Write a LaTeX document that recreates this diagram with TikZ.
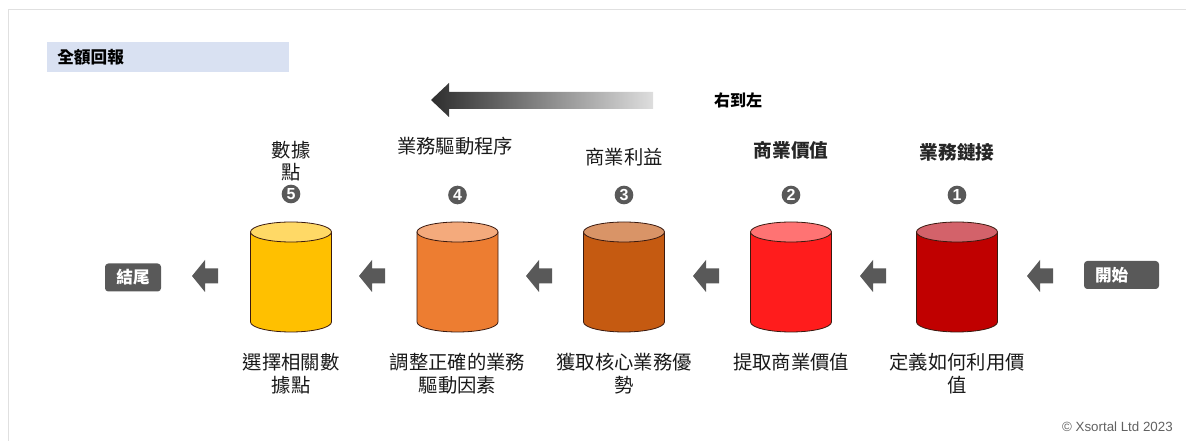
\documentclass[tikz,border=0pt]{standalone}
\usepackage{fontspec}
\setmainfont{Liberation Sans}
\newfontfamily\cjk{Noto Sans CJK TC}
\definecolor{hdr}{HTML}{D9E1F2}
\definecolor{dgray}{HTML}{595959}
\definecolor{cline}{HTML}{3A1A10}
\definecolor{bodyA}{HTML}{C00000}\definecolor{topA}{HTML}{D3626A}
\definecolor{bodyB}{HTML}{FF1C1C}\definecolor{topB}{HTML}{FF7373}
\definecolor{bodyC}{HTML}{C55A11}\definecolor{topC}{HTML}{D99467}
\definecolor{bodyD}{HTML}{ED7D31}\definecolor{topD}{HTML}{F4AA7C}
\definecolor{bodyE}{HTML}{FFC000}\definecolor{topE}{HTML}{FFD966}
\newcommand\mycyl[4]{%
  \path[fill=#2,draw=cline,line width=0.6pt] (#1-40.5,232) -- (#1-40.5,322)
     arc[start angle=180,end angle=0,x radius=40.5,y radius=10] -- (#1+40.5,232) -- cycle;
  \path[fill=#3,draw=cline,line width=0.6pt] (#1,232) ellipse [x radius=40.5,y radius=10];
  \coordinate (#4) at (#1,277);}
\newcommand\myarrow[2]{%
  \fill[dgray] (#1,276) -- (#1+13,260) -- (#1+13,268.5) -- (#1+26,268.5) -- (#1+26,283.5)
     -- (#1+13,283.5) -- (#1+13,292) -- cycle;
  \coordinate (#2) at (#1+13,276);}
\begin{document}
\begin{tikzpicture}[x=0.75pt,y=-0.75pt,
  lbl/.style={font=\cjk\fontsize{14.5}{17.25}\selectfont, align=center, inner sep=0pt, text=black!90},
  lblb/.style={font=\cjk\bfseries\fontsize{14}{17}\selectfont, align=center, inner sep=0pt, text=black!85},
  num/.style={circle, fill=dgray, text=white, font=\bfseries\fontsize{12}{12}\selectfont, inner sep=0pt, minimum size=14pt},
  tag/.style={rounded corners=2.5pt, fill=dgray, text=white, font=\cjk\bfseries\fontsize{12.5}{14}\selectfont, minimum height=21pt}]
\useasboundingbox (0,0) rectangle (1186,441);
\draw[black!12,line width=0.75pt] (8,441) -- (8,10) -- (1186,10);
% header
\node[fill=hdr, minimum width=181.5pt, minimum height=22.5pt, inner sep=0pt, anchor=north west] (hdrbox) at (47,42) {};
\node[font=\cjk\bfseries\fontsize{12.5}{14}\selectfont, anchor=west, inner sep=0pt] (hdrtxt) at (57,57) {全額回報};
% direction arrow
\shade[left color=black!82, right color=black!13] (431,100) -- (449,83) -- (449,92) -- (653,92) -- (653,109) -- (449,109) -- (449,117) -- cycle;
\node[font=\cjk\bfseries\fontsize{12}{14}\selectfont, inner sep=0pt] (dir) at (738,100) {右到左};
% cylinders
\mycyl{957}{bodyA}{topA}{c1}
\mycyl{791}{bodyB}{topB}{c2}
\mycyl{624}{bodyC}{topC}{c3}
\mycyl{457.5}{bodyD}{topD}{c4}
\mycyl{291}{bodyE}{topE}{c5}
% small arrows
\myarrow{1027}{a0}
\myarrow{860}{a1}
\myarrow{693}{a2}
\myarrow{526}{a3}
\myarrow{359}{a4}
\myarrow{192}{a5}
% start / end
\node[tag, minimum width=56.25pt, inner xsep=8.25pt, text width=39.75pt, align=left] (start) at (1121.5,275) {開始};
\node[tag, minimum width=42pt, inner xsep=0pt] (end) at (133,277.5) {結尾};
% top labels
\node[lblb] (t1) at (957,152) {業務鏈接};
\node[lblb] (t2) at (791,150) {商業價值};
\node[lbl] (t3) at (624,157) {商業利益};
\node[lbl] (t4) at (455,146) {業務驅動程序};
\node[lbl, font=\cjk\fontsize{14.5}{16.5}\selectfont] (t5) at (291,161) {數據\\點};
% numbers
\node[num] (n1) at (957,195) {1};
\node[num] (n2) at (791,195) {2};
\node[num] (n3) at (624,195) {3};
\node[num] (n4) at (457.5,195) {4};
\node[num] (n5) at (291,194) {5};
% bottom labels
\node[lbl] (b1) at (957,373.5) {定義如何利用價\\值};
\node[lbl] (b2) at (791,362) {提取商業價值};
\node[lbl] (b3) at (624,373.5) {獲取核心業務優\\勢};
\node[lbl] (b4) at (457.5,373.5) {調整正確的業務\\驅動因素};
\node[lbl] (b5) at (291,373.5) {選擇相關數\\據點};
% copyright
\node[anchor=east, font=\fontsize{10}{12}\selectfont, text=black!62, inner sep=0pt] (copy) at (1173,427) {© Xsortal Ltd 2023};
\end{tikzpicture}
\end{document}
